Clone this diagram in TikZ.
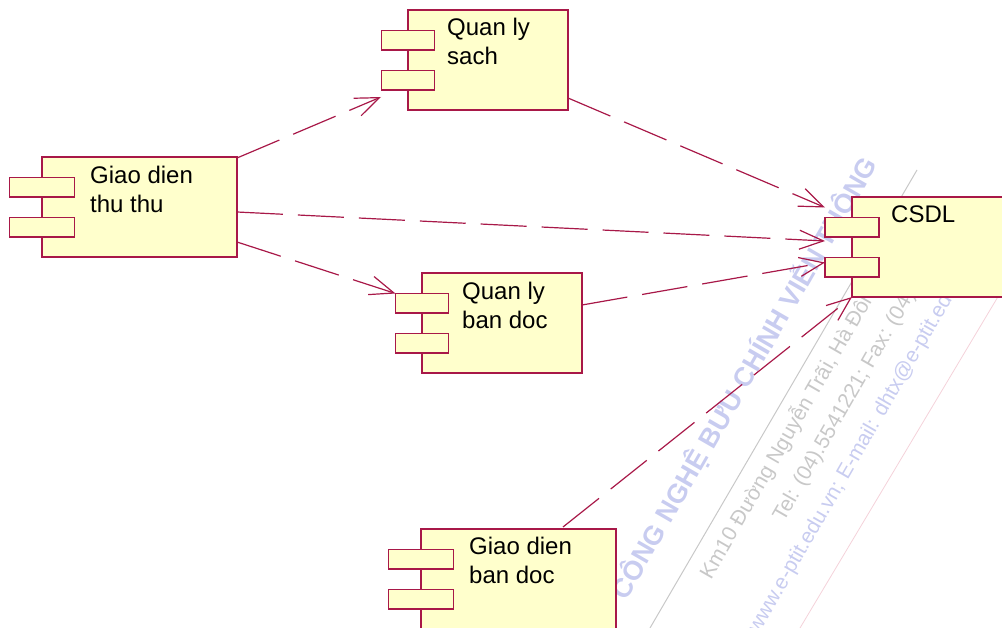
\documentclass[tikz,border=0pt]{standalone}
\usepackage{fontspec}
\setmainfont{Liberation Sans}
\usetikzlibrary{arrows.meta,calc}
\definecolor{umlred}{RGB}{168,24,72}
\definecolor{umlfill}{RGB}{255,255,204}
\definecolor{wmblue}{RGB}{200,204,240}
\definecolor{wmgray}{RGB}{200,200,200}
\definecolor{wmred}{RGB}{244,210,218}
\tikzset{
  compbody/.style={draw=umlred, fill=umlfill, line width=1.2pt, minimum height=100pt, inner sep=0pt, outer sep=0pt, anchor=north west},
  comptab/.style={draw=umlred, fill=umlfill, line width=1.2pt, minimum height=19.5pt, inner sep=0pt, outer sep=0pt, anchor=north west},
  comptext/.style={font=\fontsize{24}{29}\selectfont, inner sep=0pt, anchor=base west, text=black},
  depend/.style={draw=umlred, line width=1.2pt, dash pattern=on 46pt off 15pt, -{Straight Barb[length=24pt,width=19pt]}},
  wmtext/.style={rotate=60, inner sep=0pt, anchor=west, font=\fontsize{21}{21}\selectfont},
}
\newcommand\umlcomp[5]{%
  \node[compbody, minimum width=#4pt] (#1) at (#2,#3) {};
  \node[comptab, minimum width=#5pt] (#1a) at ($(#1.north west)+({-#5/2},20.5)$) {};
  \node[comptab, minimum width=#5pt] (#1b) at ($(#1.north west)+({-#5/2},60.5)$) {};
}
\begin{document}
\begin{tikzpicture}[x=1pt,y=-1pt]
\useasboundingbox (0,0) rectangle (1002,628);
\clip (0,0) rectangle (1002,628);
% watermark
\draw[wmgray, line width=1pt] (917,170) -- (650,628);
\draw[wmred, line width=0.8pt] (1002,290) -- (800,628);
\node[wmtext, text=wmblue, font=\bfseries\fontsize{27}{27}\selectfont, anchor=center] (wm1) at (744,378) {CÔNG NGHỆ BƯU CHÍNH VIỄN THÔNG};
\node[wmtext, text=wmgray] (wm2) at (705,577) {Km10 Đường Nguyễn Trãi, Hà Đông};
\node[wmtext, text=wmgray] (wm3) at (779,520) {Tel: (04).5541221; Fax: (04)};
\node[wmtext, text=wmblue] (wm4) at (754,632) {www.e-ptit.edu.vn; E-mail: dhtx@e-ptit.edu.vn};
% components
\umlcomp{thu}{42}{157}{195}{65}
\umlcomp{sach}{408}{10}{160}{53}
\umlcomp{bd}{422}{273}{160}{53}
\umlcomp{gd}{421}{529}{195}{65}
\umlcomp{db}{852}{197}{160}{54}
\node[comptext] (thuL1) at (90,184) {Giao dien};
\node[comptext] (thuL2) at (90,213) {thu thu};
\node[comptext] (sachL1) at (447,36) {Quan ly};
\node[comptext] (sachL2) at (447,65) {sach};
\node[comptext] (bdL1) at (462,300) {Quan ly};
\node[comptext] (bdL2) at (462,329) {ban doc};
\node[comptext] (gdL1) at (469,554) {Giao dien};
\node[comptext] (gdL2) at (469,583) {ban doc};
\node[comptext] (dbL) at (891,223) {CSDL};
% dependencies
\draw[depend] ($(thu.north east)+(0,1)$) -- ($(sach.south west)+(-27,-13)$);
\draw[depend] ($(thu.east)+(0,5)$) -- ($(dba.south west)+(0,4)$);
\draw[depend] ($(thu.south east)+(0,-15)$) -- (bda.north west);
\draw[depend] ($(sach.south east)+(0,-12)$) -- ($(dba.north west)+(0,-10)$);
\draw[depend] ($(bd.north east)+(0,32)$) -- ($(dbb.north west)+(0,5)$);
\draw[depend] ($(gd.north west)+(142,-2)$) -- (db.south west);
\end{tikzpicture}
\end{document}
